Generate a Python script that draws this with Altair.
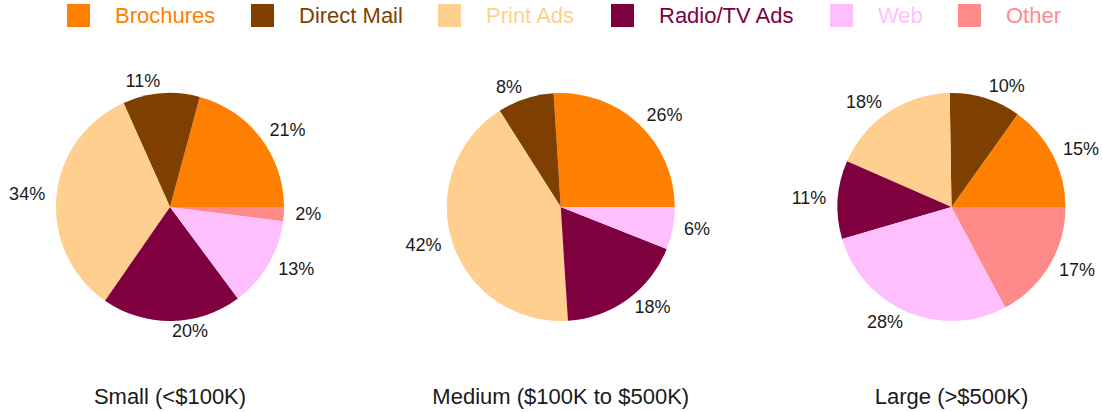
import math
import altair as alt
import pandas as pd

# ---- data ----
groups = ["Small (<$100K)", "Medium ($100K to $500K)", "Large (>$500K)"]
categories = ["Brochures", "Direct Mail", "Print Ads", "Radio/TV Ads", "Web", "Other"]
small_vals = [21, 11, 34, 20, 13, 2]
medium_vals = [26, 8, 42, 18, 6, 0]
large_vals = [15, 10, 18, 11, 28, 17]
colors = ["#FF7F00", "#7F3F00", "#FFCF8F", "#7F003F", "#FFBFFF", "#FF8A8A"]

rows = []
for g, vals in zip(groups, [small_vals, medium_vals, large_vals]):
    for i, (c, v) in enumerate(zip(categories, vals)):
        rows.append({"group": g, "category": c, "value": v, "order": i})
df = pd.DataFrame(rows)
titles_df = pd.DataFrame({"group": groups})

# ---- layout / style ----
W, H = 1102, 412
CY = 207
R = 114
FONT = "Liberation Sans"
TXT = "#1a1a1a"

x_enc = alt.X(
    "group:N",
    scale=alt.Scale(type="point", domain=groups, range=[170, 951.5], padding=0),
    axis=None,
)
theta_scale = alt.Scale(domain=[0, 1], range=[2.5 * math.pi, 0.5 * math.pi])

base = (
    alt.Chart(df)
    .transform_filter("datum.value > 0")
    .transform_stack(
        stack="value",
        groupby=["group"],
        as_=["v0", "v1"],
        offset="normalize",
        sort=[alt.SortField("order", order="ascending")],
    )
    .transform_calculate(
        mid="(datum.v0 + datum.v1) / 2",
        pct="format(datum.value, 'd') + '%'",
        side="cos(PI * (datum.v0 + datum.v1)) >= 0 ? 1 : 0",
    )
)

legend = alt.Legend(
    orient="none",
    legendX=67,
    legendY=4,
    direction="horizontal",
    columns=6,
    title=None,
    padding=0,
    symbolType="square",
    symbolSize=529,
    symbolStrokeWidth=0,
    symbolOpacity=1,
    labelFont=FONT,
    labelFontSize=22,
    labelOffset=25,
    columnPadding=35,
    labelColor=alt.ExprRef("scale('color', datum.value)"),
)

arcs = base.mark_arc(outerRadius=R, innerRadius=0).encode(
    x=x_enc,
    y=alt.value(CY),
    theta=alt.Theta("v0:Q", scale=theta_scale),
    theta2="v1:Q",
    color=alt.Color(
        "category:N",
        scale=alt.Scale(domain=categories, range=colors),
        legend=legend,
    ),
)

lab_common = dict(baseline="middle", fontSize=18, font=FONT, color=TXT, radius=R * 1.1)

labels_right = base.transform_filter("datum.side == 1").mark_text(
    align="left", **lab_common
).encode(
    x=x_enc,
    y=alt.value(CY),
    theta=alt.Theta("mid:Q", scale=theta_scale, stack=False),
    text="pct:N",
)

labels_left = base.transform_filter("datum.side == 0").mark_text(
    align="right", **lab_common
).encode(
    x=x_enc,
    y=alt.value(CY),
    theta=alt.Theta("mid:Q", scale=theta_scale, stack=False),
    text="pct:N",
)

titles = alt.Chart(titles_df).mark_text(
    fontSize=22, font=FONT, color=TXT, baseline="alphabetic", align="center"
).encode(
    x=x_enc,
    y=alt.value(404),
    text="group:N",
)

chart = (
    alt.layer(arcs, labels_right, labels_left, titles)
    .properties(width=W, height=H, autosize="none", padding=0, background="white")
    .configure_view(stroke=None)
)

chart.save("out.html", embed_options={"renderer": "svg", "actions": False})
